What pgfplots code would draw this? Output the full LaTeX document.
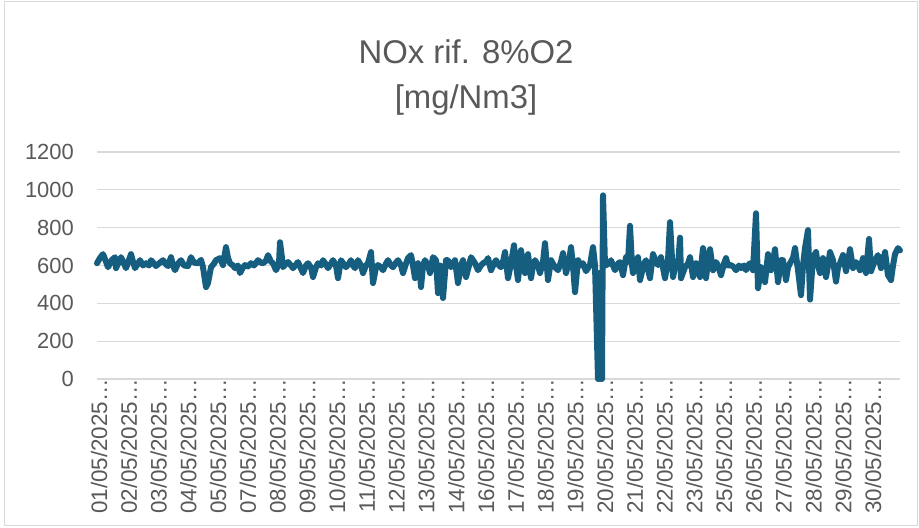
\documentclass[border=0pt]{standalone}
\usepackage{pgfplots}
\pgfplotsset{compat=1.18}
\usepackage{fontspec}
\setmainfont{Liberation Sans}
\definecolor{lineblue}{RGB}{22,94,128}
\definecolor{txtgray}{RGB}{89,89,89}
\definecolor{gridgray}{RGB}{217,217,217}

\begin{document}
\begin{tikzpicture}[x=1bp,y=1bp]
\begin{axis}[
    name=ax,
    width=803bp, height=227bp, scale only axis,
    xmin=97, xmax=900, ymin=0, ymax=1200,
    ytick={0,200,...,1200},
    ymajorgrids, grid style={gridgray, line width=1.3bp},
    axis line style={draw=none}, major tick style={draw=none},
    clip=false,
    /pgf/number format/1000 sep={},
    /pgf/number format/assume math mode=true,
    yticklabel style={anchor=east, inner sep=0pt, xshift=-23bp,
        text=txtgray, font=\fontsize{22}{22}\selectfont},
    xtick={97,126.77,156.54,186.31,216.08,245.85,275.62,305.39,335.16,364.93,
        394.7,424.47,454.24,484.01,513.78,543.55,573.32,603.09,632.86,662.63,
        692.4,722.17,751.94,781.71,811.48,841.25,871.02},
    xticklabels={01/05/2025…,02/05/2025…,03/05/2025…,04/05/2025…,05/05/2025…,
        07/05/2025…,08/05/2025…,09/05/2025…,10/05/2025…,11/05/2025…,
        12/05/2025…,13/05/2025…,14/05/2025…,16/05/2025…,17/05/2025…,
        18/05/2025…,19/05/2025…,20/05/2025…,21/05/2025…,22/05/2025…,
        23/05/2025…,25/05/2025…,26/05/2025…,27/05/2025…,28/05/2025…,
        29/05/2025…,30/05/2025…},
    xticklabel style={rotate=90, anchor=east, inner sep=0pt, yshift=-2bp,
        text=txtgray, font=\fontsize{22.5}{22.5}\selectfont},
]
\addplot[lineblue, line width=6bp, line join=round, line cap=round] coordinates {
(97,612) (100,640) (103,660) (106,620) (108,591) (112,630) (115,644) (116,586)
(119,620) (121,644) (124,610) (126,586) (129,630) (131,660) (133,620) (135,586)
(138,610) (140,628) (143,600) (146,612) (149,600) (151,628) (154,610) (156,597)
(160,615) (163,628) (166,605) (168,597) (171,644) (173,600) (175,575) (178,610)
(181,628) (184,600) (188,597) (191,644) (194,615) (198,612) (201,630) (203,591)
(206,486) (208,507) (211,591) (214,610) (216,628) (220,639) (223,602) (226,697)
(228,640) (230,612) (233,600) (235,586) (238,600) (240,560) (243,590) (245,602)
(248,595) (251,612) (254,600) (258,628) (261,615) (263,612) (266,625) (268,655)
(271,620) (273,612) (276,575) (279,610) (280,723) (282,640) (283,591) (286,610)
(288,618) (291,600) (293,586) (296,605) (298,618) (300,595) (303,560) (306,600)
(308,612) (311,590) (313,539) (316,590) (318,612) (321,600) (323,628) (326,605)
(328,586) (331,610) (333,628) (336,600) (338,533) (341,628) (344,605) (346,591)
(349,610) (351,628) (353,600) (355,586) (358,628) (361,600) (363,560) (366,600)
(368,612) (371,671) (373,507) (376,590) (378,602) (381,590) (383,575) (386,610)
(388,628) (391,600) (393,591) (396,615) (398,628) (401,600) (403,560) (406,610)
(408,639) (411,655) (413,600) (415,533) (418,612) (420,560) (421,486) (423,600)
(425,628) (428,600) (430,560) (433,644) (436,628) (438,454) (440,600) (443,428)
(446,628) (448,628) (451,591) (455,628) (458,507) (461,600) (463,628) (466,539)
(469,600) (471,644) (475,612) (478,575) (481,600) (483,612) (486,620) (488,639)
(491,575) (494,610) (496,628) (499,600) (501,591) (503,620) (505,671) (508,533)
(511,612) (514,707) (516,600) (518,523) (521,681) (523,600) (525,560) (528,660)
(531,533) (533,600) (535,628) (538,600) (540,560) (543,620) (545,718) (548,523)
(551,628) (555,591) (558,575) (561,620) (563,665) (566,560) (569,620) (571,697)
(573,600) (575,459) (578,628) (581,600) (583,612) (586,570) (590,602) (593,697)
(595,600) (598,0) (599,560) (600,0) (601,500) (602,0) (603,971) (605,600)
(606,602) (609,610) (611,628) (613,600) (615,575) (618,610) (620,618) (623,549)
(626,644) (628,620) (630,810) (632,600) (633,560) (636,610) (638,644) (640,523)
(644,610) (646,628) (650,533) (653,660) (656,620) (658,602) (661,644) (665,533)
(668,628) (670,829) (673,539) (676,612) (678,600) (680,747) (681,533) (685,591)
(688,610) (690,644) (693,539) (696,612) (700,539) (703,692) (706,533) (708,620)
(710,686) (713,575) (716,618) (718,600) (721,549) (724,610) (726,639) (728,600)
(731,602) (734,590) (736,575) (739,600) (741,586) (744,600) (746,575) (748,600)
(750,612) (753,575) (756,876) (758,480) (761,591) (765,512) (768,660) (771,575)
(773,620) (775,686) (778,512) (781,628) (783,628) (786,523) (788,590) (790,612)
(793,640) (795,692) (798,575) (801,443) (803,600) (805,692) (808,787) (810,420)
(813,644) (816,671) (818,600) (820,560) (823,639) (826,539) (828,600) (830,671)
(833,628) (836,515) (838,590) (840,612) (843,655) (846,570) (848,620) (850,686)
(853,586) (856,618) (858,600) (860,575) (863,639) (866,560) (869,740) (871,570)
(873,600) (875,628) (878,655) (881,586) (883,620) (885,671) (888,549) (891,523)
(893,600) (895,660) (898,692) (900,680)
};
\coordinate (O) at (rel axis cs:0,0);
\end{axis}
\pgfresetboundingbox
% positions below are image pixels (px,py) as (px-97, 379-py) from the plot corner
\begin{scope}[shift={(O)}]
\path[use as bounding box] (-97,-149) rectangle (822,379);
\draw[gridgray, line width=1bp] (-92,-147) rectangle (820,377);
\node[txtgray, anchor=base, font=\fontsize{33}{38}\selectfont] at (369,{379-64}) {NOx rif. 8\%O2};
\node[txtgray, anchor=base, font=\fontsize{33}{38}\selectfont] at (369,{379-109}) {[mg/Nm3]};
\end{scope}
\end{tikzpicture}
\end{document}
